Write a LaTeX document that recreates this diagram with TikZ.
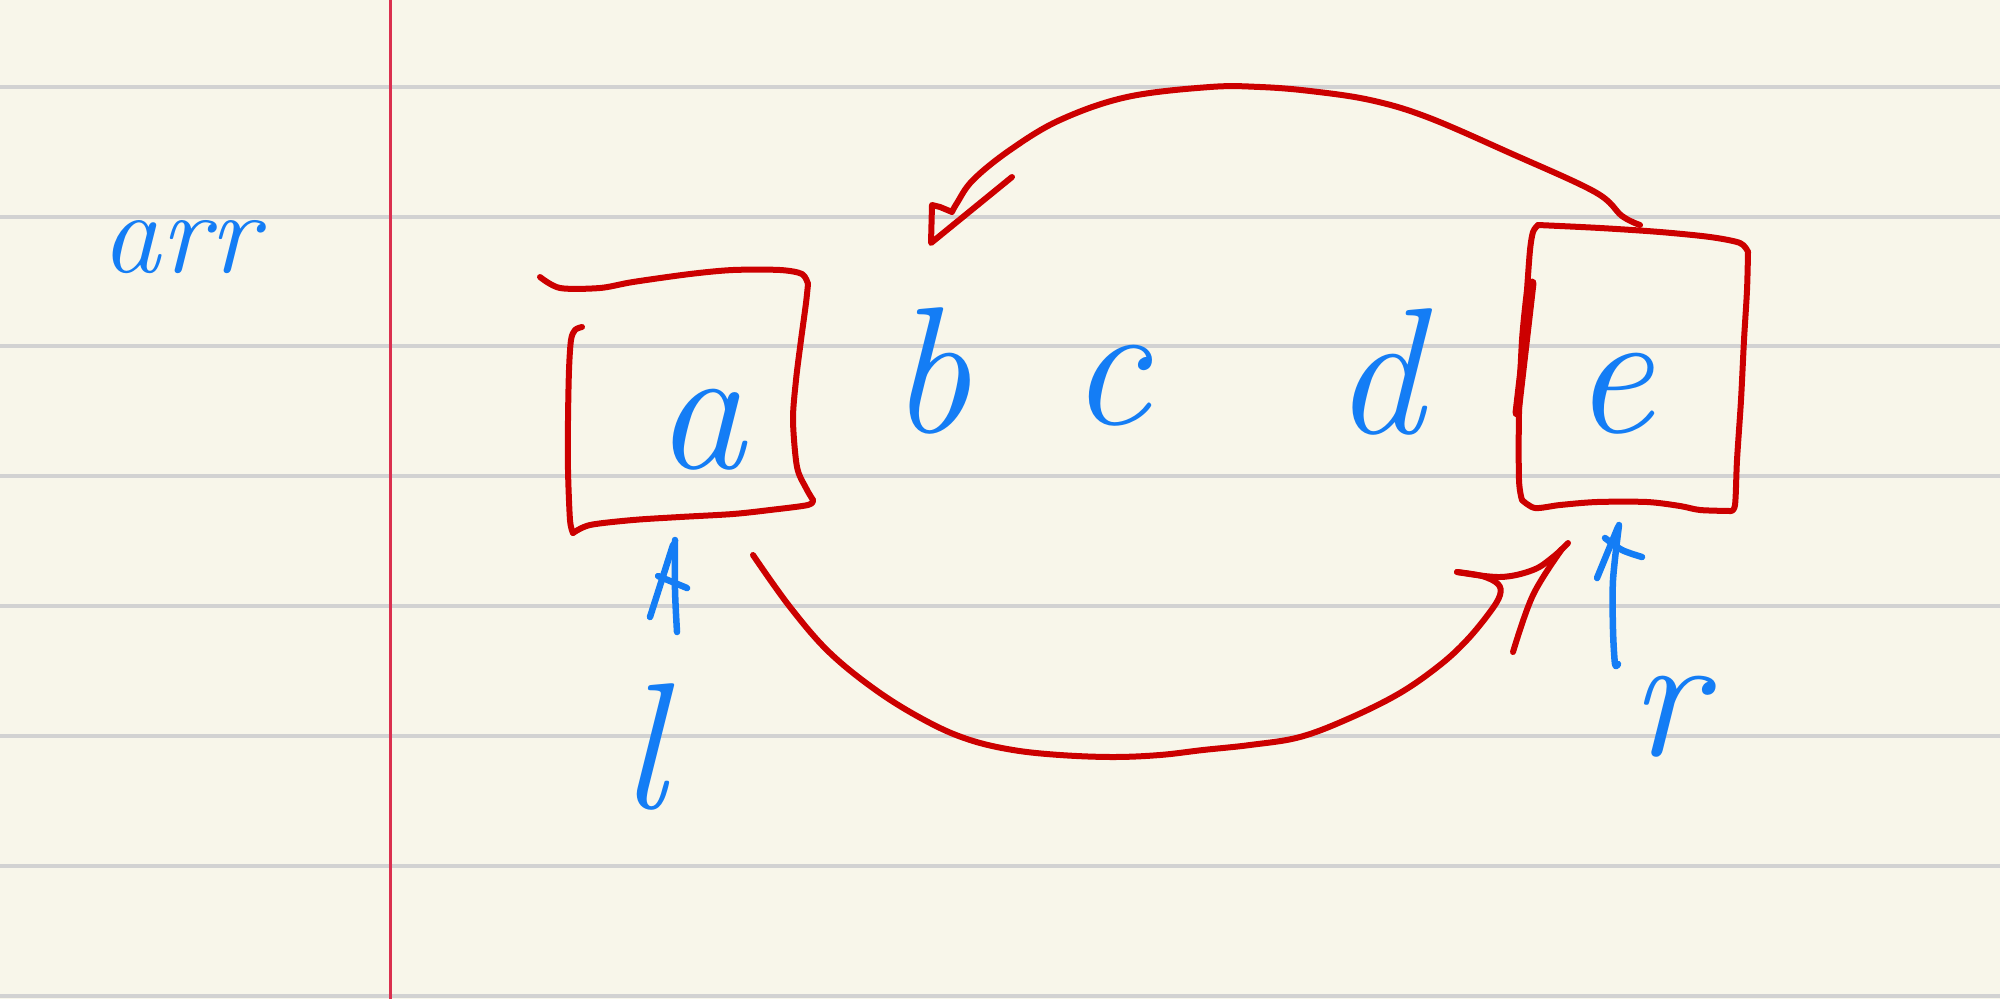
\documentclass[tikz,border=0pt]{standalone}
\usepackage{fontspec}
\definecolor{paper}{RGB}{248,246,234}
\definecolor{rule}{RGB}{210,210,210}
\definecolor{margin}{RGB}{218,48,78}
\definecolor{pen}{RGB}{204,0,0}
\definecolor{inkblue}{RGB}{20,125,245}
\tikzset{
  ruleline/.style={draw=rule, line width=4pt},
  marginline/.style={draw=margin, line width=3pt},
  redpen/.style={draw=pen, line width=6pt, line cap=round, line join=round},
  bluepen/.style={draw=inkblue, line width=6.5pt, line cap=round, line join=round},
  hand/.style={text=inkblue, font=\fontsize{180}{180}\selectfont\itshape, inner sep=0pt, anchor=base},
  handsmall/.style={hand, font=\fontsize{118}{118}\selectfont\itshape}
}
\begin{document}
\begin{tikzpicture}[x=1pt,y=-1pt]
\useasboundingbox (0,0) rectangle (2000,999);
\fill[paper] (0,0) rectangle (2000,999);
% ruled lines
\foreach \yy in {87,217,346,476,606,736,866,996}
  \draw[ruleline] (0,\yy) -- (2000,\yy);
\draw[marginline] (390,0) -- (390,999);

% texts
\node[handsmall] (arr) at (180,272) {arr};
\node[hand] (a) at (700,468) {a};
\node[hand] (b) at (930,432) {b};
\node[hand] (c) at (1110,424) {c};
\node[hand] (d) at (1378,433) {d};
\node[hand] (e) at (1613,432) {e};
\node[hand] (l) at (643,808) {l};
\node[hand] (r) at (1667,755) {r};

% box around a
\draw[redpen] plot[smooth, tension=0.5] coordinates {(540,277) (560,288) (600,288) (633,282) (690,274) (733,270) (780,270) (802,274) (808,284)};
\draw[redpen] plot[smooth, tension=0.5] coordinates {(808,284) (806,303) (801,340) (796,380) (793,420) (797,467) (806,488) (813,500)};
\draw[redpen] plot[smooth, tension=0.5] coordinates {(813,500) (808,505) (770,510) (733,514) (680,517) (633,520) (590,525) (573,533)};
\draw[redpen] plot[smooth, tension=0.5] coordinates {(573,533) (570,520) (568,470) (568,420) (569,370) (571,340) (575,330) (582,327)};

% box around e
\draw[redpen] plot[smooth, tension=0.5] coordinates {(1527,290) (1530,250) (1533,232) (1538,225)};
\draw[redpen] plot[smooth, tension=0.5] coordinates {(1538,225) (1600,228) (1660,232) (1710,237) (1740,243) (1748,252)};
\draw[redpen] plot[smooth, tension=0.5] coordinates {(1748,252) (1747,290) (1744,340) (1741,400) (1737,460) (1735,505) (1730,511)};
\draw[redpen] plot[smooth, tension=0.5] coordinates {(1730,511) (1700,510) (1680,506) (1647,502) (1597,502) (1560,505) (1535,508) (1522,500)};
\draw[redpen] plot[smooth, tension=0.5] coordinates {(1522,500) (1519,480) (1519,413) (1522,340) (1527,290)};
\draw[redpen, line width=9pt] (1532,283) -- (1517,413);

% top arrow (from e to b)
\draw[redpen] plot[smooth, tension=0.6] coordinates {(1640,225) (1622,216) (1595,192) (1510,153) (1427,117) (1370,100) (1310,91) (1260,87) (1210,87) (1127,97) (1060,120) (1010,150) (973,180) (957,203) (952,212)}
  -- (940,207) -- (932,205) -- (931,243) -- (1012,177);

% bottom arrow (from a to e)
\draw[redpen] plot[smooth, tension=0.6] coordinates {(753,555) (790,607) (830,653) (880,693) (930,723) (970,740) (1013,750) (1060,755) (1113,757) (1160,755) (1203,750) (1250,745) (1300,737) (1350,718) (1400,693) (1440,665) (1467,640) (1490,612) (1500,595) (1498,584) (1482,576) (1457,572)};
\draw[redpen] plot[smooth, tension=0.6] coordinates {(1457,572) (1500,577) (1533,570) (1553,557) (1568,543)};
\draw[redpen] plot[smooth, tension=0.6] coordinates {(1562,549) (1533,595) (1513,652)};

% blue pointer arrow under a
\draw[bluepen] plot[smooth] coordinates {(675,540) (675,590) (677,632)};
\draw[bluepen] (650,617) -- (673,545);
\draw[bluepen] (658,576) -- (687,588);

% blue pointer arrow under e
\draw[bluepen] plot[smooth] coordinates {(1619,525) (1613,580) (1613,630) (1615,664) (1618,664)};
\draw[bluepen] (1597,578) -- (1618,527);
\draw[bluepen] plot[smooth] coordinates {(1605,538) (1622,550) (1642,557)};
\end{tikzpicture}
\end{document}
